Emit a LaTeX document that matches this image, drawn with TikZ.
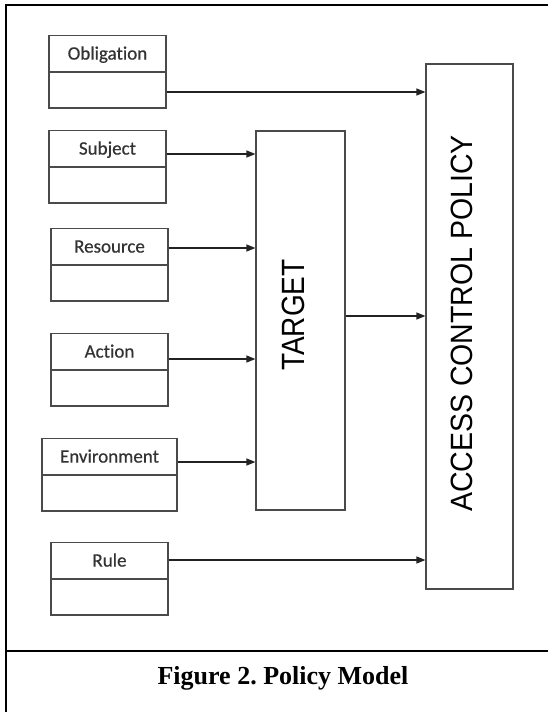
\documentclass[tikz,border=0pt]{standalone}
\usepackage{fontspec}
\setmainfont{Liberation Serif}
\newfontfamily\calfont[FakeBold=0.6,Ligatures={NoCommon}]{Carlito}
\newfontfamily\arifont{Liberation Sans}
\usetikzlibrary{arrows.meta}
\definecolor{boxgray}{HTML}{4A4A4A}
\definecolor{linegray}{HTML}{222222}
\begin{document}
\frenchspacing
\begin{tikzpicture}[x=1pt,y=-1pt,
  frame/.style={line width=2.6pt,black},
  clstop/.style={draw=boxgray,line width=1.4pt,minimum width=117pt,minimum height=35.5pt,
    inner sep=0pt,text height=12.2pt,text depth=0pt,font=\calfont\fontsize{19}{19}\selectfont,text=black!80},
  clsbot/.style={draw=boxgray,line width=1.4pt,minimum width=117pt,minimum height=35.5pt,inner sep=0pt,anchor=north},
  bigbox/.style={draw=boxgray,line width=1.2pt,inner sep=0pt},
  bigtext/.style={rotate=90,inner sep=0pt,font=\arifont\fontsize{28}{28}\selectfont},
  arr/.style={draw=linegray,line width=1.2pt,-{Triangle[length=9pt,width=7pt]}},
]
\useasboundingbox (0,0) rectangle (548,712);
% outer frame
\draw[frame] (6,712) -- (6,5) -- (548,5);
\draw[frame] (6,651) -- (548,651);
% class boxes
\node[clstop] (oblT) at (107.5,53.5) {Obligation};
\node[clsbot] (oblB) at (oblT.south) {};
\node[clstop] (subT) at (107.5,148.5) {Subject};
\node[clsbot] (subB) at (subT.south) {};
\node[clstop] (resT) at (109.5,246.5) {Resource};
\node[clsbot] (resB) at (resT.south) {};
\node[clstop] (actT) at (109.5,351.5) {Action};
\node[clsbot] (actB) at (actT.south) {};
\node[clstop,minimum width=135pt] (envT) at (109.5,456.5) {Environment};
\node[clsbot,minimum width=135pt] (envB) at (envT.south) {};
\node[clstop] (rulT) at (109.5,560.5) {Rule};
\node[clsbot] (rulB) at (rulT.south) {};
% big boxes
\node[bigbox,minimum width=89pt,minimum height=379pt] (tgt) at (300.5,320.5) {};
\node[bigtext] (tgtlab) at (293.5,315) {\scalebox{1}[1.15]{TARGET}};
\node[bigbox,minimum width=87pt,minimum height=525pt] (acp) at (469.5,326.5) {};
\node[bigtext,font=\arifont\fontsize{28.5}{28.5}\selectfont] (acplab) at (462,323.5) {\scalebox{1}[1.08]{ACCESS CONTROL POLICY}};
% connectors
\draw[arr] (oblB.east |- 0,92) -- (acp.west |- 0,92);
\draw[arr] (subT.east |- 0,154) -- (tgt.west |- 0,154);
\draw[arr] (resT.east |- 0,248) -- (tgt.west |- 0,248);
\draw[arr] (actT.east |- 0,359) -- (tgt.west |- 0,359);
\draw[arr] (envT.east |- 0,462) -- (tgt.west |- 0,462);
\draw[arr] (tgt.east |- 0,316) -- (acp.west |- 0,316);
\draw[arr] (rulT.east |- 0,560) -- (acp.west |- 0,560);
% caption
\node[anchor=base,inner sep=0pt,font=\bfseries\fontsize{26}{26}\selectfont] (cap) at (283,684) {Figure 2. Policy Model};
\end{tikzpicture}
\end{document}
